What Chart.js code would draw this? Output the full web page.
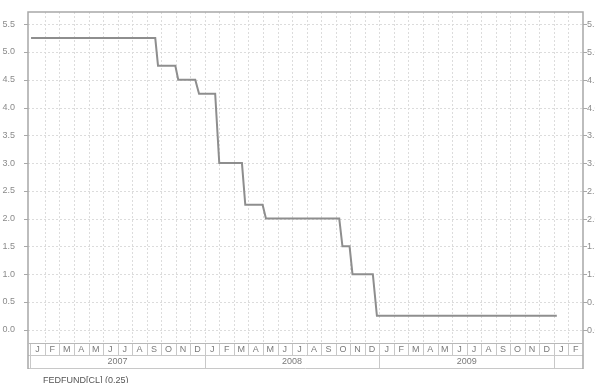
<!DOCTYPE html>
<html>
<head>
    <meta charset="UTF-8">
    <title>FEDFUND</title>
    <script src="https://cdn.jsdelivr.net/npm/chart.js"></script>
    <style>
        body { margin: 0; padding: 0; background: #fff; }
        #wrap { width: 595px; height: 383px; position: relative; }
    </style>
</head>
<body>
    <div id="wrap"><canvas id="fedChart" width="595" height="383"></canvas></div>

    <script>
        // month index counted from Jan 2007 (0 = start of Jan 2007)
        const xMonths = [0.05, 8.59, 8.78, 9.97, 10.17, 11.34, 11.6, 12.71, 12.99, 14.55, 14.78,
                         15.97, 16.2, 21.24, 21.46, 21.95, 22.15, 23.55, 23.83, 36.2];
        const rates   = [5.25, 5.25, 4.75, 4.75, 4.5, 4.5, 4.25, 4.25, 3.0, 3.0, 2.25,
                         2.25, 2.0, 2.0, 1.5, 1.5, 1.0, 1.0, 0.25, 0.25];
        const monthLetters = ['J', 'F', 'M', 'A', 'M', 'J', 'J', 'A', 'S', 'O', 'N', 'D'];
        const years = ['2007', '2008', '2009', ''];
        const monthCount = 38;   // Jan 2007 .. Feb 2010
        const yTicks = [0, 0.5, 1, 1.5, 2, 2.5, 3, 3.5, 4, 4.5, 5, 5.5];
        const footerText = 'FEDFUND[CL] (0.25)';

        const points = xMonths.map((m, i) => ({ x: m, y: rates[i] }));

        const gridColor = '#dcdcdc';
        const frameColor = '#a8a8a8';
        const textColor = '#8a8a8a';
        const fontStr = '9px "Liberation Sans", Arial, sans-serif';

        const framePlugin = {
            id: 'frame',
            beforeDatasetsDraw(chart) {
                const { ctx, chartArea: a, scales: { x, y } } = chart;
                ctx.save();
                ctx.strokeStyle = gridColor;
                ctx.lineWidth = 1;
                ctx.setLineDash([2, 2]);
                for (let i = 1; i < monthCount; i++) {
                    const px = Math.round(x.getPixelForValue(i)) + 0.5;
                    ctx.beginPath(); ctx.moveTo(px, a.top); ctx.lineTo(px, a.bottom); ctx.stroke();
                }
                yTicks.forEach(v => {
                    const py = Math.round(y.getPixelForValue(v)) + 0.5;
                    ctx.beginPath(); ctx.moveTo(a.left, py); ctx.lineTo(a.right, py); ctx.stroke();
                });
                ctx.restore();
            },
            afterDraw(chart) {
                const { ctx, chartArea: a, scales: { x, y } } = chart;
                const rowTop = a.bottom;
                const monthBottom = a.bottom + 12;
                const yearBottom = a.bottom + 25;
                const x0 = x.getPixelForValue(0);
                ctx.save();
                ctx.setLineDash([]);

                // tick marks both sides, right-hand labels (cut by the page edge)
                ctx.strokeStyle = frameColor;
                ctx.lineWidth = 1;
                ctx.font = fontStr;
                ctx.fillStyle = textColor;
                ctx.textAlign = 'left';
                ctx.textBaseline = 'middle';
                yTicks.forEach(v => {
                    const py = Math.round(y.getPixelForValue(v)) + 0.5;
                    ctx.beginPath(); ctx.moveTo(a.left - 4, py); ctx.lineTo(a.left, py); ctx.stroke();
                    ctx.beginPath(); ctx.moveTo(a.right, py); ctx.lineTo(a.right + 4, py); ctx.stroke();
                    ctx.fillText(v.toFixed(1), a.right + 4, py);
                });

                // month row and year row
                ctx.strokeStyle = '#c8c8c8';
                ctx.beginPath();
                ctx.moveTo(a.left, monthBottom + 0.5); ctx.lineTo(a.right, monthBottom + 0.5);
                ctx.moveTo(a.left, yearBottom + 0.5); ctx.lineTo(a.right, yearBottom + 0.5);
                ctx.moveTo(Math.round(x0) + 0.5, rowTop); ctx.lineTo(Math.round(x0) + 0.5, yearBottom);
                ctx.stroke();

                ctx.textAlign = 'center';
                ctx.fillStyle = '#7a7a7a';
                for (let i = 0; i < monthCount; i++) {
                    const l = x.getPixelForValue(i);
                    const r = x.getPixelForValue(i + 1);
                    const px = Math.round(r) + 0.5;
                    ctx.beginPath();
                    if ((i + 1) % 12 === 0) {
                        ctx.moveTo(px, rowTop); ctx.lineTo(px, yearBottom);
                    } else if (i + 1 < monthCount) {
                        ctx.moveTo(px, rowTop); ctx.lineTo(px, monthBottom);
                    }
                    ctx.stroke();
                    ctx.fillText(monthLetters[i % 12], (l + r) / 2, rowTop + 6.5);
                }
                years.forEach((yr, k) => {
                    if (!yr) return;
                    const l = x.getPixelForValue(k * 12);
                    const r = x.getPixelForValue(Math.min((k + 1) * 12, monthCount));
                    ctx.fillText(yr, (l + r) / 2, monthBottom + 7);
                });

                // plot frame
                ctx.strokeStyle = frameColor;
                ctx.lineWidth = 1.5;
                ctx.beginPath();
                ctx.moveTo(a.left, yearBottom + 1);
                ctx.lineTo(a.left, a.top);
                ctx.lineTo(a.right, a.top);
                ctx.lineTo(a.right, yearBottom + 1);
                ctx.stroke();
                ctx.lineWidth = 1;
                ctx.strokeStyle = '#b8b8b8';
                ctx.beginPath();
                ctx.moveTo(a.left, a.bottom + 0.5); ctx.lineTo(a.right, a.bottom + 0.5);
                ctx.stroke();

                // series caption
                ctx.textAlign = 'left';
                ctx.textBaseline = 'top';
                ctx.fillStyle = '#555';
                ctx.fillText(footerText, 43, 376);
                ctx.restore();
            }
        };

        const tickFont = { family: '"Liberation Sans", Arial, sans-serif', size: 9 };
        const keepTicks = scale => {
            scale.ticks = yTicks.map(v => ({ value: v }));
        };

        new Chart(document.getElementById('fedChart').getContext('2d'), {
            type: 'line',
            data: {
                datasets: [{
                    label: 'FEDFUND[CL]',
                    data: points,
                    borderColor: '#8e8e8e',
                    borderWidth: 2,
                    pointRadius: 0,
                    tension: 0,
                    fill: false
                }]
            },
            options: {
                responsive: false,
                animation: false,
                layout: { padding: { top: 12, bottom: 40, left: 0, right: 0 } },
                plugins: { legend: { display: false }, tooltip: { enabled: false } },
                scales: {
                    x: {
                        type: 'linear',
                        display: false,
                        min: -0.16,
                        max: monthCount
                    },
                    y: {
                        position: 'left',
                        min: -0.24,
                        max: 5.72,
                        afterBuildTicks: keepTicks,
                        afterFit: s => { s.width = 28; },
                        grid: { display: false },
                        border: { display: false },
                        ticks: {
                            font: tickFont, color: textColor, padding: 5,
                            callback: v => v.toFixed(1)
                        }
                    },
                    y2: {
                        position: 'right',
                        min: -0.24,
                        max: 5.72,
                        afterBuildTicks: keepTicks,
                        afterFit: s => { s.width = 12; },
                        grid: { display: false },
                        border: { display: false },
                        ticks: { display: false }
                    }
                }
            },
            plugins: [framePlugin]
        });
    </script>
</body>
</html>
